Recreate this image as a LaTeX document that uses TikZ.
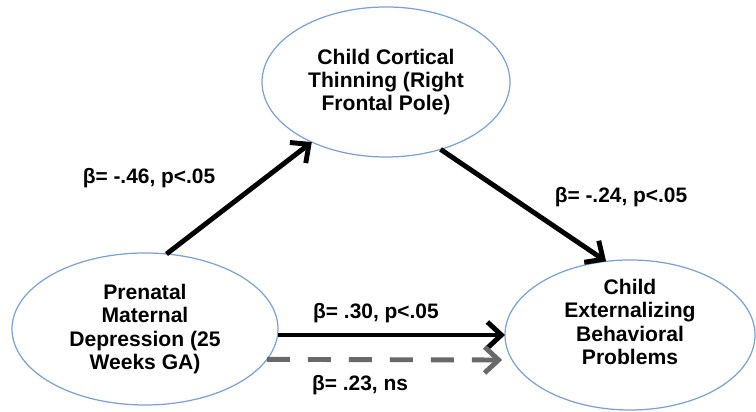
\documentclass[tikz,border=0pt]{standalone}
\usepackage{fontspec}
\setmainfont{Liberation Sans}
\usetikzlibrary{arrows.meta,shapes.geometric}
\definecolor{rimblue}{RGB}{125,160,210}
\definecolor{nsgray}{RGB}{105,105,105}
\begin{document}
\begin{tikzpicture}[inner sep=0pt,outer sep=0pt,line width=2.8pt,
>={Straight Barb[length=2.8mm,width=5.2mm]},
var/.style={draw=rimblue,line width=0.7pt,ellipse,align=center,font=\fontsize{12}{13.2}\selectfont\bfseries},
txt/.style={align=center,font=\fontsize{12}{13.2}\selectfont\bfseries},
coef/.style={font=\fontsize{11.9}{13}\selectfont\bfseries}]
\useasboundingbox (0,0) rectangle (15.12,8.24);
\draw (2.90,1.66) node[var,minimum width=5.32cm,minimum height=3.04cm] (dep) {Prenatal\\Maternal\\Depression (25\\Weeks GA)};
\draw (7.72,6.60) node[var,minimum width=4.96cm,minimum height=3.0cm] (cort) {Child Cortical\\Thinning (Right\\Frontal Pole)};
\draw (12.60,1.54) node[var,minimum width=5.0cm,minimum height=3.0cm] (ext) {};
\draw (12.60,1.80) node[txt] (extlbl) {Child\\Externalizing\\Behavioral\\Problems};
\draw[->] (dep.74) -- (cort.219);
\draw[->] (cort.309) -- (ext.108);
\draw[->] (dep.east |- ext.west) -- (ext.west);
\draw[->,nsgray,dash pattern=on 0.46cm off 0.36cm,shorten >=0.2cm] (dep.-14) -- (ext.192);
\draw (2.98,4.68) node[coef] (a) {β= -.46, p<.05};
\draw (12.42,4.30) node[coef] (b) {β= -.24, p<.05};
\draw (7.52,1.98) node[coef] (c) {β= .30, p<.05};
\draw (7.20,0.54) node[coef] (cp) {β= .23, ns};
\end{tikzpicture}
\end{document}
